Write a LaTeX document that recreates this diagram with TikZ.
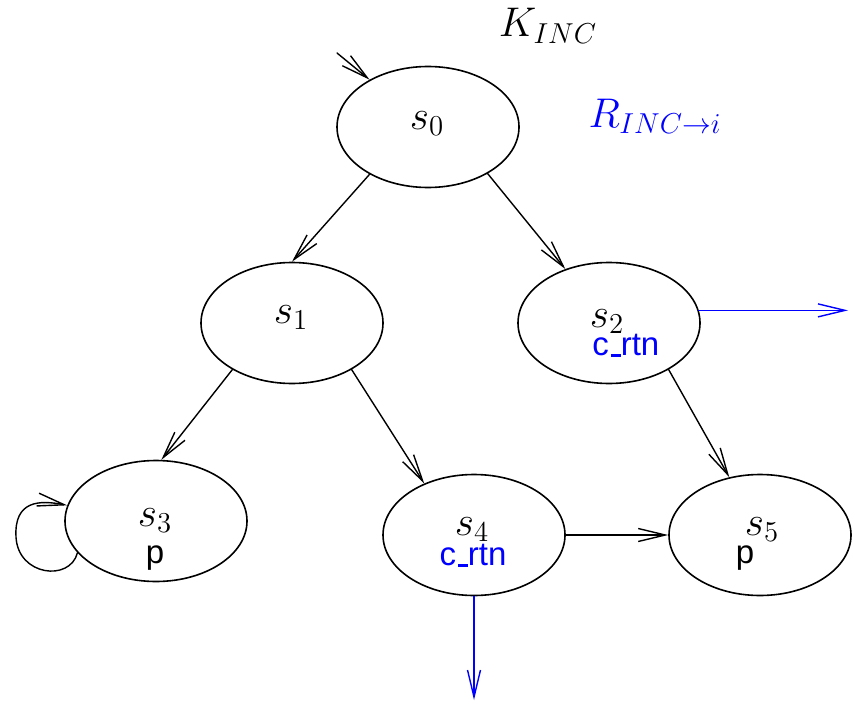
\documentclass[tikz,border=0pt]{standalone}
\usepackage{fontspec}
\setsansfont{Liberation Sans}
\usetikzlibrary{arrows.meta,shapes.geometric}
\newcommand{\usc}{\kern.06em\rule[-0.05em]{.3em}{.07em}}
\tikzset{
  state/.style={draw,ellipse,minimum width=91pt,minimum height=60.5pt,inner sep=0pt,line width=0.8pt},
  stname/.style={anchor=base,inner sep=0pt,font=\huge},
  propl/.style={anchor=base,inner sep=0pt,font=\sffamily\fontsize{16.5}{19}\selectfont},
  trans/.style={->,line width=0.7pt},
}
\begin{document}
\begin{tikzpicture}[x=0.5pt,y=-0.5pt,line cap=round,line join=round,>={Straight Barb[length=13.5pt,width=6.5pt]}]
				\useasboundingbox (0,0) rectangle (856,701);
				% states
				\node[state] (s0) at (428,127) {};
				\node[state] (s1) at (292,323) {};
				\node[state] (s2) at (609,323) {};
				\node[state] (s3) at (156,521) {};
				\node[state] (s4) at (474,535) {};
				\node[state] (s5) at (760,535) {};
				\node[stname] (l0) at (427,129) {$s_0$};
				\node[stname] (l1) at (291,323) {$s_1$};
				\node[stname] (l2) at (607,327) {$s_2$};
				\node[propl,blue,anchor=base west] (p2) at (592,355) {c\usc rtn};
				\node[stname] (l3) at (155,526) {$s_3$};
				\node[propl] (p3) at (155,563) {p};
				\node[stname] (l4) at (472,535) {$s_4$};
				\node[propl,blue] (p4) at (473,565) {c\usc rtn};
				\node[stname] (l5) at (762,535) {$s_5$};
				\node[propl] (p5) at (745,563) {p};
				\node[stname] (kinc) at (548,37) {$K_{INC}$};
				\node[stname,blue] (rinc) at (655,127) {$R_{INC\rightarrow i}$};
				% transitions
				\coordinate (init) at (337,53);
				\coordinate (out2) at (848,310);
				\coordinate (out4) at (474,700);
				\draw[trans] (init) -- (s0.141);
				\draw[trans] (s0.219) -- (s1.north);
				\draw[trans] (s0.322) -- (s2.129);
				\draw[trans] (s1.218) -- (s3.85);
				\draw[trans] (s1.322) -- (s4.134);
				\draw[trans] (s2.322) -- (s5.118);
				\draw[trans] (s4.east) -- (s5.west);
				\draw[trans] (s3.202) .. controls (70,582) and (18,576) .. (16,537) .. controls (14,500) and (40,500) .. (s3.170);
				\draw[trans,blue] (s2.8) -- (s2.8 -| out2);
				\draw[trans,blue] (s4.south) -- (out4);
\end{tikzpicture}
\end{document}
